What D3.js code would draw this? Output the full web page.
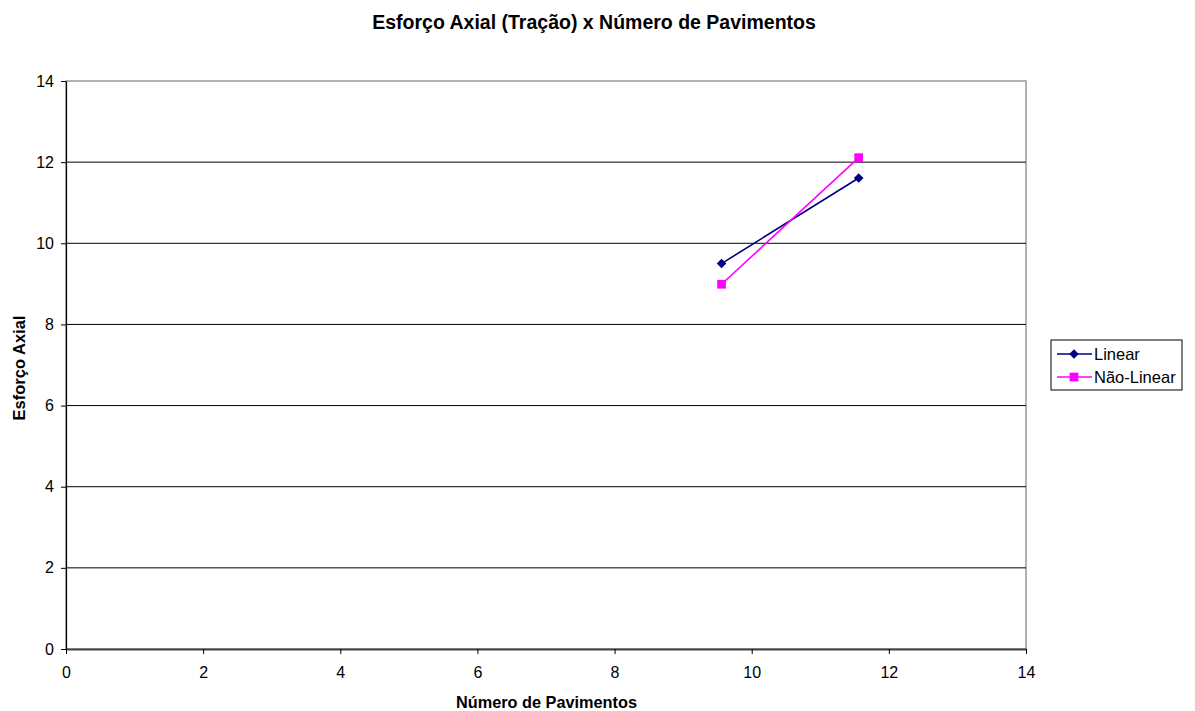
<!DOCTYPE html>
<html>
<head>
<meta charset="utf-8">
<script src="https://cdn.jsdelivr.net/npm/d3@7"></script>
<style>
  body { margin: 0; background: #fff; }
  svg { display: block; font-family: "Liberation Sans", Arial, sans-serif; }
</style>
</head>
<body>
<svg id="chart" width="1195" height="711"></svg>
<script>
// Axial tension force vs number of floors
const xTicks = [0, 2, 4, 6, 8, 10, 12, 14];
const yTicks = [0, 2, 4, 6, 8, 10, 12, 14];
const linearX = [9.56, 11.56];
const linearY = [9.5, 11.61];
const naoLinearX = [9.56, 11.56];
const naoLinearY = [8.99, 12.11];
const seriesNames = ["Linear", "Não-Linear"];
const seriesColors = ["#000080", "#ff00ff"];

const FONT = "'Liberation Sans', Arial, sans-serif";
const svg = d3.select("#chart").attr("font-family", FONT);
const plotL = 66, plotR = 1026, plotT = 81, plotB = 649;

const x = d3.scaleLinear().domain([0, 14]).range([plotL, plotR]);
const y = d3.scaleLinear().domain([0, 14]).range([plotB, plotT]);

// plot area with grey frame
svg.append("rect").attr("x", plotL).attr("y", plotT)
  .attr("width", plotR - plotL).attr("height", plotB - plotT)
  .attr("fill", "#fff").attr("stroke", "#999").attr("stroke-width", 1.5);

// horizontal gridlines
svg.append("g").selectAll("line").data(yTicks.filter(d => d > 0 && d < 14)).join("line")
  .attr("x1", plotL).attr("x2", plotR)
  .attr("y1", d => y(d)).attr("y2", d => y(d))
  .attr("stroke", "#000").attr("stroke-width", 1);

// axes
const xAxis = svg.append("g").attr("transform", `translate(0,${plotB})`)
  .call(d3.axisBottom(x).tickValues(xTicks).tickSize(5).tickPadding(13).tickSizeOuter(0));
const yAxis = svg.append("g").attr("transform", `translate(${plotL},0)`)
  .call(d3.axisLeft(y).tickValues(yTicks).tickSize(5).tickPadding(7).tickSizeOuter(0));
[xAxis, yAxis].forEach(g => {
  g.attr("font-family", FONT);
  g.select(".domain").attr("stroke", "#000").attr("stroke-width", 1.2);
  g.selectAll(".tick line").attr("stroke", "#000");
  g.selectAll(".tick text").attr("font-size", 16).attr("fill", "#000");
});
xAxis.select(".domain").attr("stroke", "#444").attr("stroke-width", 2);

// title and axis titles
svg.append("text").attr("x", 594).attr("y", 29).attr("text-anchor", "middle")
  .attr("font-size", 19.5).attr("font-weight", "bold").text("Esforço Axial (Tração) x Número de Pavimentos");
svg.append("text").attr("x", 546.5).attr("y", 708).attr("text-anchor", "middle")
  .attr("font-size", 16.3).attr("font-weight", "bold").text("Número de Pavimentos");
svg.append("text").attr("transform", "translate(25,368) rotate(-90)")
  .attr("text-anchor", "middle").attr("font-size", 16.5).attr("font-weight", "bold").text("Esforço Axial");

// series
const series = [
  { name: seriesNames[0], color: seriesColors[0], pts: linearX.map((v, i) => [v, linearY[i]]), shape: d3.symbolSquare, size: 46, rot: 45 },
  { name: seriesNames[1], color: seriesColors[1], pts: naoLinearX.map((v, i) => [v, naoLinearY[i]]), shape: d3.symbolSquare, size: 76, rot: 0 }
];
const line = d3.line().x(d => x(d[0])).y(d => y(d[1]));
series.forEach(s => {
  svg.append("path").attr("d", line(s.pts)).attr("fill", "none")
    .attr("stroke", s.color).attr("stroke-width", 1.6);
  svg.append("g").selectAll("path").data(s.pts).join("path")
    .attr("transform", d => `translate(${x(d[0])},${y(d[1])}) rotate(${s.rot})`)
    .attr("d", d3.symbol().type(s.shape).size(s.size)).attr("fill", s.color);
});

// legend
const lg = svg.append("g");
lg.append("rect").attr("x", 1051).attr("y", 340).attr("width", 131).attr("height", 50)
  .attr("fill", "#fff").attr("stroke", "#000").attr("stroke-width", 1);
series.forEach((s, i) => {
  const ly = 354 + i * 23;
  lg.append("line").attr("x1", 1057).attr("x2", 1092).attr("y1", ly).attr("y2", ly)
    .attr("stroke", s.color).attr("stroke-width", 1.6);
  lg.append("path").attr("transform", `translate(1074,${ly}) rotate(${s.rot})`)
    .attr("d", d3.symbol().type(s.shape).size(s.size)).attr("fill", s.color);
  lg.append("text").attr("x", 1094).attr("y", ly + 5.5).attr("font-size", 16.5).text(s.name);
});
</script>
</body>
</html>
